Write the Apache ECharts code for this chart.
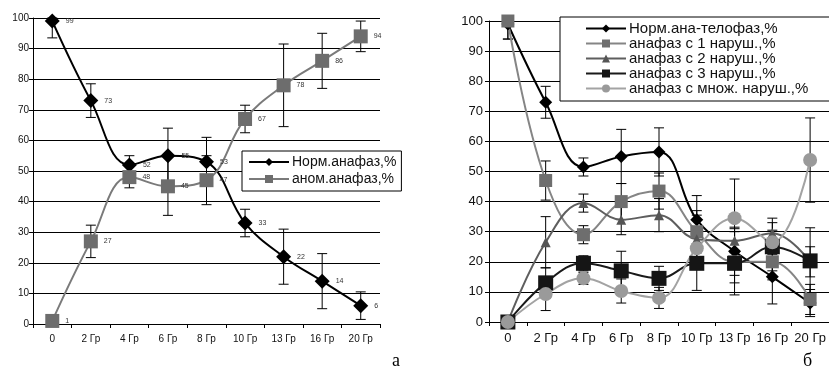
<!DOCTYPE html>
<html>
<head>
<meta charset="utf-8">
<script src="https://cdn.jsdelivr.net/npm/echarts@6/dist/echarts.min.js"></script>
<style>
  html, body { margin: 0; padding: 0; background: #fff; }
  #chart { width: 829px; height: 379px; }
</style>
</head>
<body>
<div id="chart"></div>
<script>
// категории доз
var cats = ["0", "2 Гр", "4 Гр", "6 Гр", "8 Гр", "10 Гр", "13 Гр", "16 Гр", "20 Гр"];

// рисунок а
var normA = [99, 73, 52, 55, 53, 33, 22, 14, 6];
var anomA = [1, 27, 48, 45, 47, 67, 78, 86, 94];
var normAErr = [5.5, 5.5, 3, 9, 8, 4.5, 9, 9, 4.5];
var anomAErr = [0, 5.3, 3.5, 9.5, 8, 4.5, 13.5, 9, 5];

// рисунок б
var normB = [99, 73, 51.5, 55, 56.5, 34, 23.5, 15, 6.3];
var s1B = [100, 47, 29, 40, 43.5, 30, 20, 20, 7.5];
var s2B = [0, 26.5, 39.5, 34, 35.5, 27.5, 27, 29.5, 20];
var s3B = [0, 13, 19.5, 17, 14.5, 19.5, 19.5, 25, 20.3];
var smB = [0, 9.3, 14.5, 10.3, 8, 24.5, 34.5, 26.5, 53.8];
var normBErr = [5, 5.3, 3, 9, 8, 8, 8, 9, 4.5];
var s1BErr = [6, 6.5, 3, 6, 6, 7, 7, 6, 5];
var s2BErr = [0, 8.5, 3, 5, 5.5, 8, 4, 5, 5];
var s3BErr = [0, 5, 2.5, 6.5, 4, 9, 10.5, 8, 11];
var smBErr = [0, 5.5, 2, 4, 3.5, 5, 13, 4, 14];

var FONT = "Liberation Sans, Arial, sans-serif";

function errData(vals, errs) {
  var out = [];
  for (var i = 0; i < vals.length; i++) {
    if (!errs[i]) continue;
    out.push([i, Math.max(0, vals[i] - errs[i]), Math.min(100, vals[i] + errs[i])]);
  }
  return out;
}

function errSeries(vals, errs, gi) {
  return {
    type: "custom",
    xAxisIndex: gi,
    yAxisIndex: gi,
    z: 1,
    silent: true,
    data: errData(vals, errs),
    renderItem: function (params, api) {
      var lo = api.coord([api.value(0), api.value(1)]);
      var hi = api.coord([api.value(0), api.value(2)]);
      var w = 5;
      var st = { stroke: "#000", lineWidth: 1 };
      return {
        type: "group",
        children: [
          { type: "line", shape: { x1: hi[0], y1: hi[1], x2: lo[0], y2: lo[1] }, style: st },
          { type: "line", shape: { x1: hi[0] - w, y1: hi[1], x2: hi[0] + w, y2: hi[1] }, style: st },
          { type: "line", shape: { x1: lo[0] - w, y1: lo[1], x2: lo[0] + w, y2: lo[1] }, style: st }
        ]
      };
    }
  };
}

function lineSeries(name, data, gi, sym, size, mColor, lColor, label) {
  return {
    name: name,
    type: "line",
    xAxisIndex: gi,
    yAxisIndex: gi,
    data: data,
    smooth: 0.4,
    z: 2,
    symbol: sym,
    symbolSize: size,
    itemStyle: { color: mColor },
    lineStyle: { color: lColor, width: 2 },
    label: label ? {
      show: true,
      position: "right",
      distance: 6,
      fontSize: 7,
      color: "#333",
      fontFamily: FONT
    } : { show: false },
    emphasis: { disabled: true }
  };
}

function xAx(gi, fs, margin) {
  return {
    type: "category",
    gridIndex: gi,
    data: cats,
    boundaryGap: true,
    axisLine: { lineStyle: { color: "#000", width: 1 } },
    axisTick: { show: true, length: 4, lineStyle: { color: "#000" } },
    axisLabel: { color: "#111", fontSize: fs, fontFamily: FONT, margin: margin, interval: 0 },
    splitLine: { show: false }
  };
}

function yAx(gi, fs, margin) {
  return {
    type: "value",
    gridIndex: gi,
    min: 0,
    max: 100,
    interval: 10,
    axisLine: { show: true, lineStyle: { color: "#000", width: 1 } },
    axisTick: { show: true, length: 4, lineStyle: { color: "#000" } },
    axisLabel: { color: "#111", fontSize: fs, fontFamily: FONT, margin: margin },
    splitLine: { show: true, lineStyle: { color: "#000", width: 1 } }
  };
}

var myChart = echarts.init(document.getElementById("chart"));
myChart.setOption({
  animation: false,
  backgroundColor: "#fff",
  grid: [
    { left: 33, top: 18, width: 347, height: 306 },
    { left: 489, top: 21, width: 340, height: 301 }
  ],
  xAxis: [xAx(0, 10, 10), xAx(1, 13, 10)],
  yAxis: [yAx(0, 10, 4), yAx(1, 13, 6)],
  legend: [
    {
      data: ["Норм.анафаз,%", "аном.анафаз,%"],
      orient: "vertical",
      left: 242,
      top: 151,
      itemWidth: 40,
      itemHeight: 10,
      itemGap: 3,
      padding: [4, 5, 5, 6],
      backgroundColor: "#fff",
      borderColor: "#000",
      borderWidth: 1,
      borderRadius: 0,
      selectedMode: false,
      textStyle: { color: "#111", fontSize: 14, lineHeight: 14, fontFamily: FONT, padding: [0, 0, 0, -2] }
    },
    {
      data: ["Норм.ана-телофаз,%", "анафаз с 1 наруш.,%", "анафаз с 2 наруш.,%",
             "анафаз с 3 наруш.,%", "анафаз с множ. наруш.,%"],
      orient: "vertical",
      left: 560,
      top: 17,
      itemWidth: 40,
      itemHeight: 10,
      itemGap: 0,
      padding: [4, 120, 5, 25],
      backgroundColor: "#fff",
      borderColor: "#000",
      borderWidth: 1,
      borderRadius: 0,
      selectedMode: false,
      textStyle: { color: "#111", fontSize: 15, lineHeight: 14, fontFamily: FONT, padding: [0, 0, 0, -2] }
    }
  ],
  graphic: [
    { type: "text", left: 392, top: 352, style: { text: "а", fontSize: 18, fontFamily: "Liberation Serif, serif", fill: "#000" } },
    { type: "text", left: 803, top: 352, style: { text: "б", fontSize: 18, fontFamily: "Liberation Serif, serif", fill: "#000" } }
  ],
  series: [
    errSeries(normA, normAErr, 0),
    errSeries(anomA, anomAErr, 0),
    lineSeries("Норм.анафаз,%", normA, 0, "diamond", 15, "#000", "#000", true),
    lineSeries("аном.анафаз,%", anomA, 0, "rect", 14, "#6d6d6d", "#7a7a7a", true),

    errSeries(normB, normBErr, 1),
    errSeries(s1B, s1BErr, 1),
    errSeries(s2B, s2BErr, 1),
    errSeries(s3B, s3BErr, 1),
    errSeries(smB, smBErr, 1),
    lineSeries("Норм.ана-телофаз,%", normB, 1, "diamond", 13, "#000", "#000", false),
    lineSeries("анафаз с 1 наруш.,%", s1B, 1, "rect", 13, "#6e6e6e", "#858585", false),
    lineSeries("анафаз с 2 наруш.,%", s2B, 1, "triangle", 10, "#555", "#5e5e5e", false),
    lineSeries("анафаз с 3 наруш.,%", s3B, 1, "rect", 15, "#151515", "#1a1a1a", false),
    lineSeries("анафаз с множ. наруш.,%", smB, 1, "circle", 14, "#9a9a9a", "#a3a3a3", false)
  ]
});
</script>
</body>
</html>
